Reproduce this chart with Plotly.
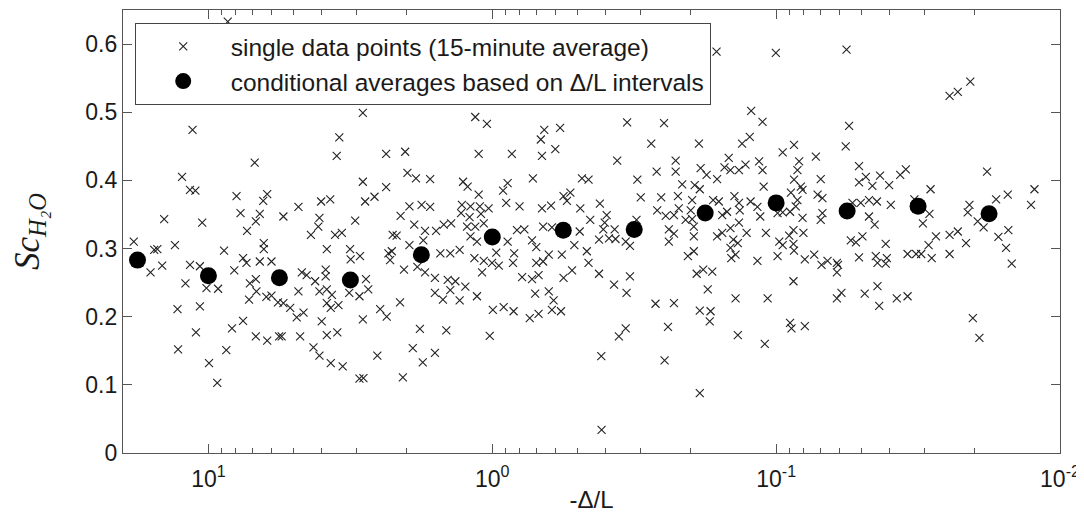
import plotly.graph_objects as go

# ---- single data points (15-minute averages) ----
# x values are read as decimal exponents of -Delta/L (log10), y = Sc_H2O
single_log10_x = [
    1.056, 0.837, 1.093, 1.065, 1.046, 0.901, 0.793, 0.807, 0.887, 0.819,
    1.156, 1.022, 0.833, 0.864, 1.263, 1.118, 1.191, 1.180, 0.945, 0.805,
    0.805, 0.878, 0.866, 0.819, 0.778, 1.163, 1.065, 1.030, 0.909, 1.204,
    1.081, 1.007, 0.966, 0.854, 0.833, 0.831, 0.857, 0.796, 0.778, 0.755,
    1.109, 1.030, 1.044, 0.917, 0.878, 0.833, 0.793, 0.751, 1.107, 0.937,
    0.998, 0.969, 0.932,
    0.456, 0.539, 0.548, 0.374, 0.307, 0.299, 0.269, 0.219, 0.456, 0.374,
    0.415, 0.448, 0.603, 0.571, 0.736, 0.683, 0.609, 0.483, 0.613, 0.639,
    0.554, 0.530, 0.583, 0.501, 0.499, 0.466, 0.351, 0.337, 0.292, 0.323,
    0.249, 0.219, 0.275, 0.237, 0.198, 0.292, 0.243, 0.366, 0.354, 0.360,
    0.311, 0.264, 0.237, 0.202, 0.671, 0.654, 0.587, 0.587, 0.624, 0.445,
    0.683, 0.609, 0.583, 0.565, 0.504, 0.468, 0.437, 0.736, 0.712, 0.689,
    0.665, 0.583, 0.569, 0.542, 0.601, 0.456, 0.395, 0.372, 0.325, 0.202,
    0.742, 0.677, 0.583, 0.546, 0.630, 0.609, 0.569, 0.527, 0.468, 0.454,
    0.405, 0.315, 0.280, 0.255, 0.245, 0.202,
    -0.014, 0.060, 0.019, -0.183, -0.239, -0.171, -0.222, 0.048, -0.069, -0.175,
    -0.143, 0.103, 0.087, 0.048, -0.054, -0.038, -0.316, -0.339, -0.251, -0.275,
    -0.263, 0.107, 0.077, 0.044, 0.013, -0.049, -0.096, -0.175, -0.207, -0.310,
    0.110, 0.080, 0.040, -0.345, 0.171, 0.145, 0.089, 0.060, 0.030, 0.077,
    0.054, -0.087, -0.113, -0.179, -0.210, -0.308, -0.054, -0.140, -0.155, -0.289,
    0.183, 0.148, 0.115, -0.014, -0.077, -0.199, -0.245, -0.333, 0.063, 0.030,
    0.001, -0.023, -0.073, -0.155, -0.179, -0.339, 0.036, -0.105, -0.140, -0.163,
    -0.251, -0.281, 0.157, 0.130, 0.095, 0.148, 0.174, 0.115, 0.054, -0.151,
    -0.199, -0.216, -0.210, -0.242, -0.002, -0.040, -0.075, -0.132, -0.163, 0.162,
    0.009, -0.316,
    -0.569, -0.475, -0.605, -0.912, -0.560, -0.728, -0.880, -0.907, -0.440, -0.646,
    -0.579, -0.646, -0.734, -0.755, -0.511, -0.669, -0.713, -0.731, -0.792, -0.818,
    -0.833, -0.839, -0.869, -0.892, -0.523, -0.595, -0.654, -0.704, -0.778, -0.798,
    -0.853, -0.869, -0.910, -0.379, -0.581, -0.611, -0.640, -0.657, -0.699, -0.681,
    -0.704, -0.810, -0.827, -0.872, -0.403, -0.396, -0.391, -0.431, -0.411, -0.376,
    -0.434, -0.508, -0.470, -0.485, -0.622, -0.640, -0.622, -0.710, -0.710, -0.792,
    -0.810, -0.839, -0.869, -0.896, -0.849, -0.865, -0.839, -0.842, -0.857, -0.689,
    -0.710, -0.376, -0.429, -0.485, -0.473, -0.720, -0.743, -0.775, -0.759, -0.575,
    -0.640, -0.731, -0.769, -0.766, -0.857, -0.446, -0.470, -0.619, -0.865, -0.384,
    -0.607, -0.731, -0.385, -0.790,
    -0.952, -1.257, -1.245, -1.023, -1.063, -1.140, -0.940, -0.952, -1.081, -1.075,
    -1.157, -1.292, -1.316, -1.292, -1.339, -1.366, -1.398, -1.437, -1.457, -0.956,
    -1.063, -1.087, -1.093, -1.052, -1.146, -1.163, -1.075, -0.934, -1.069, -1.049,
    -1.023, -1.005, -0.944, -1.093, -1.163, -1.157, -1.269, -1.298, -1.327, -1.355,
    -1.404, -1.327, -1.347, -0.964, -1.061, -1.096, -1.046, -1.011, -1.023, -1.061,
    -1.063, -1.263, -1.281, -1.304, -1.386, -0.934, -1.005, -1.101, -1.134, -1.160,
    -1.181, -1.214, -1.214, -1.218, -1.292, -1.351, -1.357, -1.390, -1.386, -1.463,
    -1.061, -0.970, -1.214, -1.230, -1.312, -1.357, -1.363, -1.425, -1.463, -1.049,
    -1.054, -1.101, -0.960, -0.999, -1.248,
    -1.611, -1.640, -1.684, -1.743, -1.544, -1.487, -1.540, -1.517, -1.563, -1.537,
    -1.611, -1.640, -1.669, -1.681, -1.675, -1.710, -1.731, -1.775, -1.816, -1.910,
    -1.898, -1.783, -1.818, -1.810, -1.830, -1.493, -1.511, -1.548, -1.611, -1.693,
    -1.716,
]

single_sc = [
    0.474, 0.426, 0.405, 0.386, 0.385, 0.377, 0.380, 0.370, 0.352, 0.351,
    0.343, 0.338, 0.340, 0.326, 0.310, 0.305, 0.298, 0.299, 0.297, 0.308,
    0.299, 0.286, 0.279, 0.281, 0.281, 0.275, 0.276, 0.274, 0.268, 0.265,
    0.249, 0.242, 0.241, 0.249, 0.255, 0.237, 0.225, 0.229, 0.231, 0.221,
    0.211, 0.215, 0.177, 0.183, 0.194, 0.171, 0.165, 0.171, 0.152, 0.151,
    0.132, 0.103, 0.633,
    0.499, 0.463, 0.436, 0.439, 0.442, 0.411, 0.403, 0.402, 0.398, 0.390,
    0.376, 0.369, 0.369, 0.372, 0.347, 0.361, 0.345, 0.341, 0.332, 0.320,
    0.320, 0.323, 0.299, 0.299, 0.284, 0.289, 0.320, 0.319, 0.362, 0.348,
    0.364, 0.361, 0.335, 0.326, 0.326, 0.305, 0.312, 0.293, 0.296, 0.283,
    0.269, 0.273, 0.265, 0.257, 0.265, 0.261, 0.269, 0.259, 0.252, 0.255,
    0.237, 0.237, 0.240, 0.232, 0.235, 0.230, 0.240, 0.220, 0.213, 0.199,
    0.206, 0.220, 0.213, 0.217, 0.193, 0.196, 0.211, 0.200, 0.221, 0.235,
    0.171, 0.171, 0.173, 0.177, 0.155, 0.143, 0.132, 0.127, 0.109, 0.110,
    0.143, 0.111, 0.154, 0.182, 0.133, 0.147,
    0.517, 0.493, 0.483, 0.474, 0.477, 0.460, 0.446, 0.439, 0.439, 0.436,
    0.403, 0.398, 0.391, 0.379, 0.396, 0.385, 0.403, 0.401, 0.377, 0.382,
    0.370, 0.364, 0.362, 0.362, 0.359, 0.367, 0.362, 0.359, 0.363, 0.359,
    0.352, 0.346, 0.351, 0.342, 0.335, 0.337, 0.332, 0.332, 0.337, 0.318,
    0.310, 0.327, 0.328, 0.332, 0.331, 0.325, 0.310, 0.312, 0.302, 0.305,
    0.293, 0.293, 0.298, 0.294, 0.293, 0.291, 0.291, 0.296, 0.286, 0.282,
    0.279, 0.275, 0.279, 0.279, 0.281, 0.279, 0.265, 0.258, 0.255, 0.261,
    0.257, 0.268, 0.254, 0.252, 0.244, 0.239, 0.225, 0.224, 0.230, 0.234,
    0.237, 0.224, 0.210, 0.208, 0.210, 0.214, 0.208, 0.198, 0.204, 0.180,
    0.172, 0.530,
    0.530, 0.485, 0.484, 0.502, 0.454, 0.454, 0.454, 0.464, 0.429, 0.429,
    0.413, 0.413, 0.418, 0.408, 0.401, 0.394, 0.393, 0.387, 0.402, 0.419,
    0.433, 0.415, 0.415, 0.423, 0.375, 0.375, 0.377, 0.371, 0.371, 0.369,
    0.377, 0.367, 0.369, 0.366, 0.356, 0.348, 0.349, 0.359, 0.356, 0.342,
    0.343, 0.349, 0.354, 0.356, 0.349, 0.338, 0.328, 0.328, 0.315, 0.313,
    0.314, 0.342, 0.310, 0.304, 0.328, 0.322, 0.310, 0.332, 0.318, 0.318,
    0.323, 0.330, 0.338, 0.323, 0.313, 0.308, 0.301, 0.286, 0.291, 0.289,
    0.296, 0.263, 0.247, 0.259, 0.235, 0.263, 0.269, 0.266, 0.240, 0.219,
    0.220, 0.209, 0.208, 0.193, 0.227, 0.171, 0.183, 0.185, 0.173, 0.142,
    0.136, 0.088, 0.034, 0.589,
    0.486, 0.480, 0.450, 0.441, 0.452, 0.435, 0.428, 0.415, 0.428, 0.415,
    0.402, 0.421, 0.405, 0.397, 0.392, 0.407, 0.393, 0.408, 0.416, 0.391,
    0.401, 0.391, 0.386, 0.382, 0.379, 0.374, 0.371, 0.361, 0.362, 0.354,
    0.353, 0.352, 0.347, 0.345, 0.352, 0.342, 0.367, 0.367, 0.371, 0.369,
    0.364, 0.347, 0.335, 0.323, 0.327, 0.323, 0.319, 0.310, 0.305, 0.307,
    0.297, 0.312, 0.309, 0.318, 0.307, 0.282, 0.289, 0.284, 0.291, 0.276,
    0.282, 0.279, 0.265, 0.276, 0.287, 0.289, 0.279, 0.286, 0.278, 0.292,
    0.252, 0.227, 0.227, 0.235, 0.234, 0.245, 0.216, 0.227, 0.230, 0.191,
    0.183, 0.186, 0.160, 0.587, 0.592,
    0.524, 0.530, 0.545, 0.413, 0.387, 0.372, 0.351, 0.337, 0.318, 0.305,
    0.320, 0.325, 0.308, 0.364, 0.353, 0.340, 0.331, 0.372, 0.379, 0.387,
    0.364, 0.317, 0.327, 0.301, 0.278, 0.292, 0.292, 0.286, 0.292, 0.198,
    0.169,
]

# ---- conditional averages based on Delta/L intervals ----
avg_x = [17.78, 10.0, 5.623, 3.162, 1.778, 1.0, 0.5623, 0.3162, 0.1778,
         0.1, 0.05623, 0.03162, 0.01778]
avg_sc = [0.283, 0.260, 0.257, 0.254, 0.291, 0.317, 0.327, 0.328, 0.352,
          0.367, 0.355, 0.362, 0.351]

# ---- axis ticks ----
x_major_vals = [10, 1, 0.1, 0.01]
x_major_text = ["10<sup>1</sup>", "10<sup>0</sup>", "10<sup>-1</sup>", "10<sup>-2</sup>"]
x_minor_vals = ([k * 0.01 for k in range(2, 10)] + [k * 0.1 for k in range(2, 10)]
                + [float(k) for k in range(2, 10)] + [20.0])
y_vals = [0, 0.1, 0.2, 0.3, 0.4, 0.5, 0.6]
y_text = ["0", "0.1", "0.2", "0.3", "0.4", "0.5", "0.6"]

single_x = [10 ** e for e in single_log10_x]

FONT = "Liberation Sans, Arial, sans-serif"
AX = "#555555"
TXT = "#1a1a1a"

fig = go.Figure()
fig.add_trace(go.Scatter(
    x=single_x, y=single_sc, mode="markers",
    name="single data points (15-minute average)",
    marker=dict(symbol="x-thin", size=8, line=dict(width=1.1, color="#222222"), color="#222222"),
))
fig.add_trace(go.Scatter(
    x=avg_x, y=avg_sc, mode="markers",
    name="conditional averages based on \u0394/L intervals",
    marker=dict(symbol="circle", size=17, color="black"),
))

# the page body adds an 8 px offset, so the figure is sized to fit the window
fig.update_layout(
    width=1076, height=508,
    margin=dict(l=115, r=24, t=2, b=63),
    paper_bgcolor="white", plot_bgcolor="white",
    font=dict(family=FONT, size=20, color=TXT),
    showlegend=True,
    legend=dict(
        x=0.0125, y=0.971, xanchor="left", yanchor="top",
        bgcolor="white", bordercolor="#444444", borderwidth=1,
        itemwidth=85,
        font=dict(family=FONT, size=24.5, color=TXT),
    ),
    xaxis=dict(
        type="log", range=[1.301, -2],
        tickmode="array", tickvals=x_major_vals, ticktext=x_major_text,
        ticks="inside", ticklen=9, tickwidth=1, tickcolor=AX,
        showline=True, linecolor=AX, linewidth=1.3, mirror="allticks",
        showgrid=False, zeroline=False,
        minor=dict(ticks="inside", ticklen=5, tickwidth=1, tickcolor=AX,
                   tickmode="array", tickvals=x_minor_vals, showgrid=False),
        tickfont=dict(family=FONT, size=23, color=TXT),
        ticklabelstandoff=5,
        title=dict(text="-\u0394/L", font=dict(family=FONT, size=24, color=TXT), standoff=0),
    ),
    yaxis=dict(
        range=[0, 0.65],
        tickmode="array", tickvals=y_vals, ticktext=y_text,
        ticks="inside", ticklen=9, tickwidth=1, tickcolor=AX,
        showline=True, linecolor=AX, linewidth=1.3, mirror="allticks",
        showgrid=False, zeroline=False,
        tickfont=dict(family=FONT, size=23, color=TXT),
        title=dict(text="<i>Sc<sub>H\u2082O</sub></i>",
                   font=dict(family="Liberation Serif, DejaVu Serif, serif", size=35, color=TXT),
                   standoff=40),
    ),
)

fig.write_html("out.html")
